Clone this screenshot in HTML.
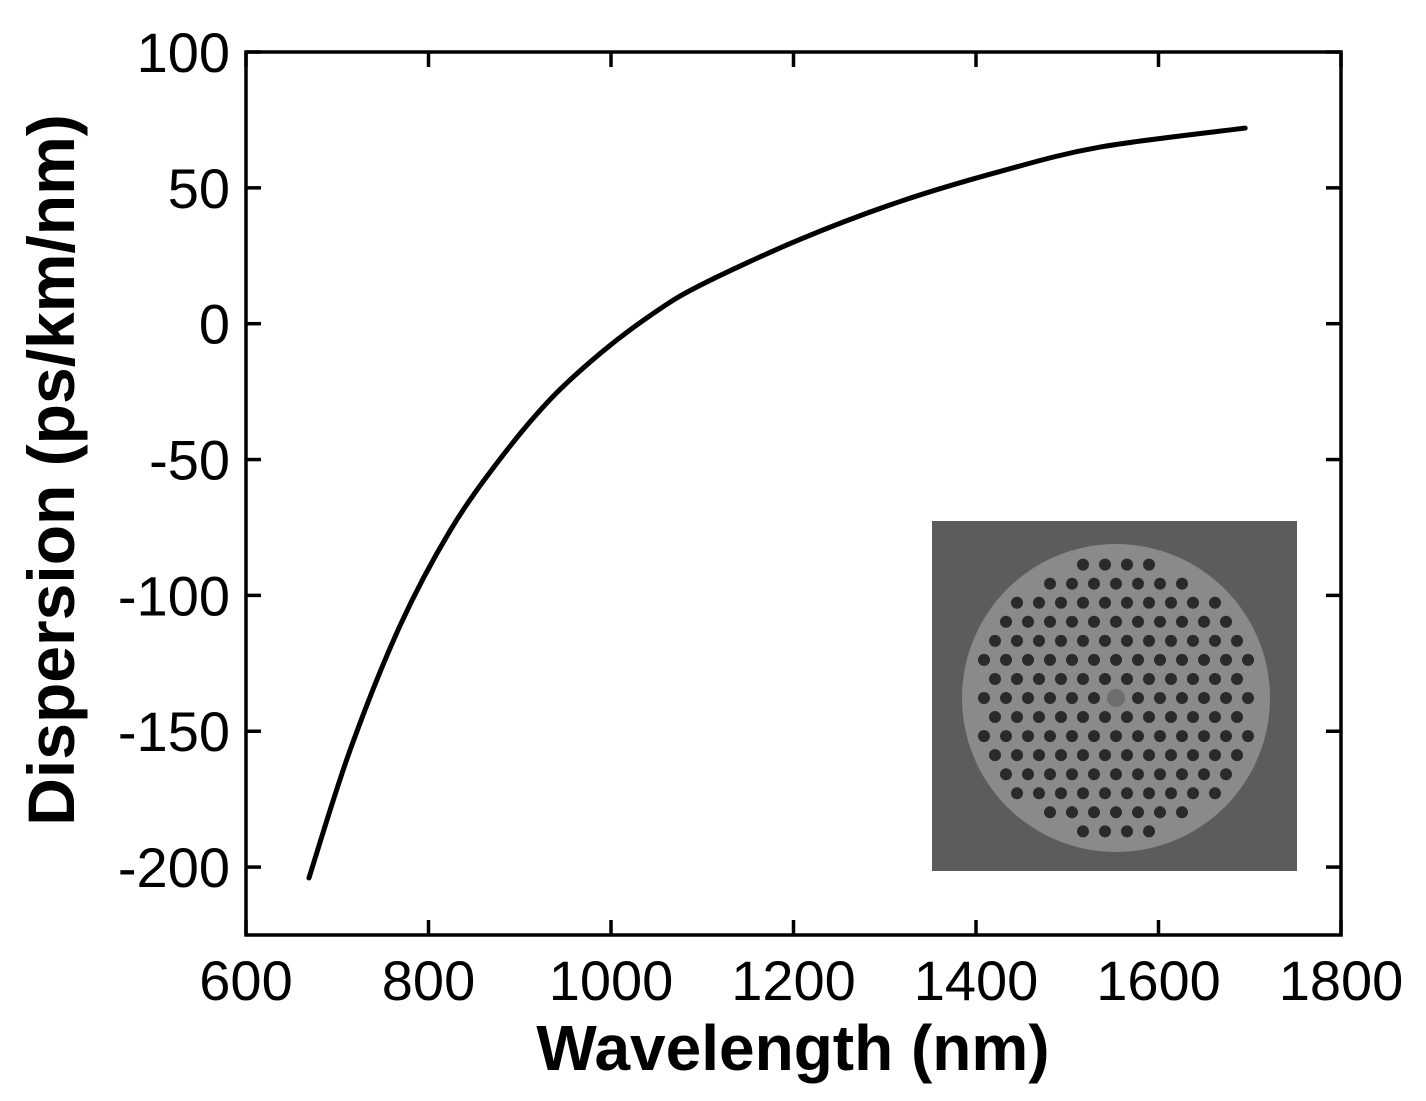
<!DOCTYPE html>
<html><head><meta charset="utf-8"><style>
body{margin:0;background:#fff}
svg{display:block}
text{font-family:"Liberation Sans",Arial,sans-serif;fill:#000}
</style></head><body>
<svg id="chart" width="1426" height="1101" viewBox="0 0 1426 1101">
<g id="inset"></g>
<g id="axes"></g>
<path id="curve" fill="none" stroke="#000" stroke-width="5" stroke-linecap="round"/>
<text x="793" y="1070" text-anchor="middle" font-size="64" font-weight="bold">Wavelength (nm)</text>
<text transform="translate(74,470) rotate(-90)" text-anchor="middle" font-size="66" font-weight="bold">Dispersion (ps/km/nm)</text>
</svg>
<script>
const wavelengths=[669,714,769,824,878,933,988,1043,1097,1207,1317,1426,1536,1695];
const dispersion=[-204,-157,-111,-76,-50,-28,-11,3,14,31,45,56,65,72];
const xTicks=[600,800,1000,1200,1400,1600,1800];
const yTicks=[100,50,0,-50,-100,-150,-200];
const L=246,R=1341,T=52,B=935;
const x=v=>L+(v-600)/1200*(R-L);
const y=v=>T+(100-v)/325*(B-T);
const NS="http://www.w3.org/2000/svg";
const ax=document.getElementById('axes');
function mk(tag,attrs,parent){const e=document.createElementNS(NS,tag);for(const k in attrs)e.setAttribute(k,attrs[k]);(parent||ax).appendChild(e);return e;}
const fr=mk('rect',{x:L,y:T,width:R-L,height:B-T,fill:'none',stroke:'#000','stroke-width':3.5});


xTicks.forEach(v=>{
 mk('line',{x1:x(v),x2:x(v),y1:B,y2:B-15,stroke:'#000','stroke-width':3.5});
 mk('line',{x1:x(v),x2:x(v),y1:T,y2:T+15,stroke:'#000','stroke-width':3.5});
 const t=mk('text',{x:x(v),y:B+65,'text-anchor':'middle','font-size':56});t.textContent=v;
 
 
});
yTicks.forEach(v=>{
 mk('line',{x1:L,x2:L+15,y1:y(v),y2:y(v),stroke:'#000','stroke-width':3.5});
 mk('line',{x1:R,x2:R-15,y1:y(v),y2:y(v),stroke:'#000','stroke-width':3.5});
 const t=mk('text',{x:L-16,y:y(v)+20,'text-anchor':'end','font-size':56});t.textContent=v;
 
 
});
const pts=wavelengths.map((w,i)=>[x(w),y(dispersion[i])]);
let d=`M${pts[0][0]},${pts[0][1]}`;
for(let i=0;i<pts.length-1;i++){const p0=pts[Math.max(i-1,0)],p1=pts[i],p2=pts[i+1],p3=pts[Math.min(i+2,pts.length-1)];
 d+=` C${p1[0]+(p2[0]-p0[0])/6},${p1[1]+(p2[1]-p0[1])/6} ${p2[0]-(p3[0]-p1[0])/6},${p2[1]-(p3[1]-p1[1])/6} ${p2[0]},${p2[1]}`;}
document.getElementById('curve').setAttribute('d',d);
const ins=document.getElementById('inset');
mk('rect',{x:932,y:521,width:365,height:350,fill:'#5c5c5c'},ins);
const cx=1116,cy=698,Rd=150,p=22;
mk('circle',{cx:cx,cy:cy,r:Rd+4,fill:'#8a8a8a'},ins);
for(let j=-9;j<=9;j++)for(let i=-10;i<=10;i++){
 const hx=cx+(i+(j%2?0.5:0))*p, hy=cy+j*p*0.866;
 const r=Math.hypot(hx-cx,hy-cy);
 if(r>Rd-6)continue;
 if(r<5){mk('circle',{cx:hx,cy:hy,r:9,fill:'#6e6e6e'},ins);continue;}
 mk('circle',{cx:hx,cy:hy,r:6,fill:'#2a2a2a'},ins);
}
</script>
</body></html>
